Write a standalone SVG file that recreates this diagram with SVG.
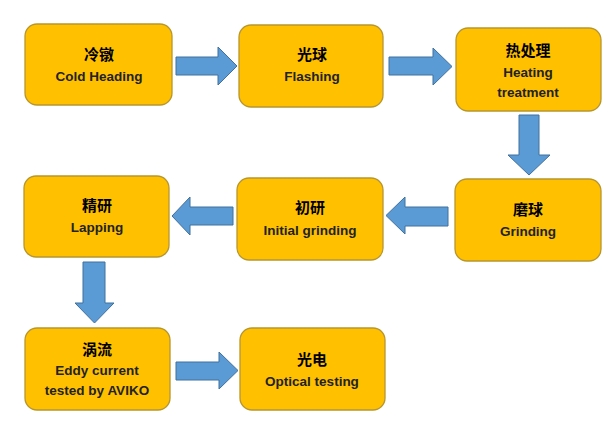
<svg xmlns="http://www.w3.org/2000/svg" width="613" height="430" viewBox="0 0 613 430">
<style>
.box{fill:#FFC000;stroke:#B8962E;stroke-width:1.3}
.arr{fill:#5B9BD5;stroke:#41719C;stroke-width:1}
.zh{font-family:"Noto Sans CJK SC",sans-serif;font-size:15px;font-weight:bold;fill:#000;text-anchor:middle}
.en{font-family:"Liberation Sans",Arial,sans-serif;font-size:13.5px;font-weight:bold;fill:#222;text-anchor:middle}
</style>
<rect width="613" height="430" fill="#fff"/>
<g id="connectors">
<path class="arr" d="M176,57 H218 V47 L237,66 L218,85 V75 H176 Z"/>
<path class="arr" d="M389,57 H433 V48 L452,66.5 L433,85 V75 H389 Z"/>
<path class="arr" d="M519,115 H539 V155 H550 L529,175 L508,155 H519 Z"/>
<path class="arr" d="M448,207 H405 V197 L386,215.5 L405,234 V226 H448 Z"/>
<path class="arr" d="M233,207 H190 V197 L172,216 L190,235 V225 H233 Z"/>
<path class="arr" d="M83,262 H105 V303 H114 L94.5,323 L75,303 H83 Z"/>
<path class="arr" d="M176,362 H219 V352 L238,370.5 L219,389 V380 H176 Z"/>
</g>
<g id="n1"><rect class="box" x="25" y="24" width="147" height="81" rx="12"/>
<text class="zh" x="99" y="60">冷镦</text><text class="en" x="99" y="81">Cold Heading</text></g>
<g id="n2"><rect class="box" x="239" y="25" width="144" height="82" rx="12"/>
<text class="zh" x="312" y="60">光球</text><text class="en" x="312" y="81">Flashing</text></g>
<g id="n3"><rect class="box" x="456" y="28" width="145" height="83" rx="12"/>
<text class="zh" x="528" y="56">热处理</text><text class="en" x="528" y="77">Heating</text><text class="en" x="528" y="97">treatment</text></g>
<g id="n4"><rect class="box" x="455" y="179" width="146" height="82" rx="12"/>
<text class="zh" x="528" y="215">磨球</text><text class="en" x="528" y="236">Grinding</text></g>
<g id="n5"><rect class="box" x="237" y="178" width="146" height="82" rx="12"/>
<text class="zh" x="310" y="213">初研</text><text class="en" x="310" y="235">Initial grinding</text></g>
<g id="n6"><rect class="box" x="24" y="176" width="145" height="81" rx="12"/>
<text class="zh" x="97" y="211">精研</text><text class="en" x="97" y="232">Lapping</text></g>
<g id="n7"><rect class="box" x="25" y="328" width="145" height="82" rx="12"/>
<text class="zh" x="97" y="355">涡流</text><text class="en" x="97" y="375">Eddy current</text><text class="en" x="97" y="395">tested by AVIKO</text></g>
<g id="n8"><rect class="box" x="240" y="328" width="145" height="82" rx="12"/>
<text class="zh" x="312" y="365">光电</text><text class="en" x="312" y="386">Optical testing</text></g>
</svg>
